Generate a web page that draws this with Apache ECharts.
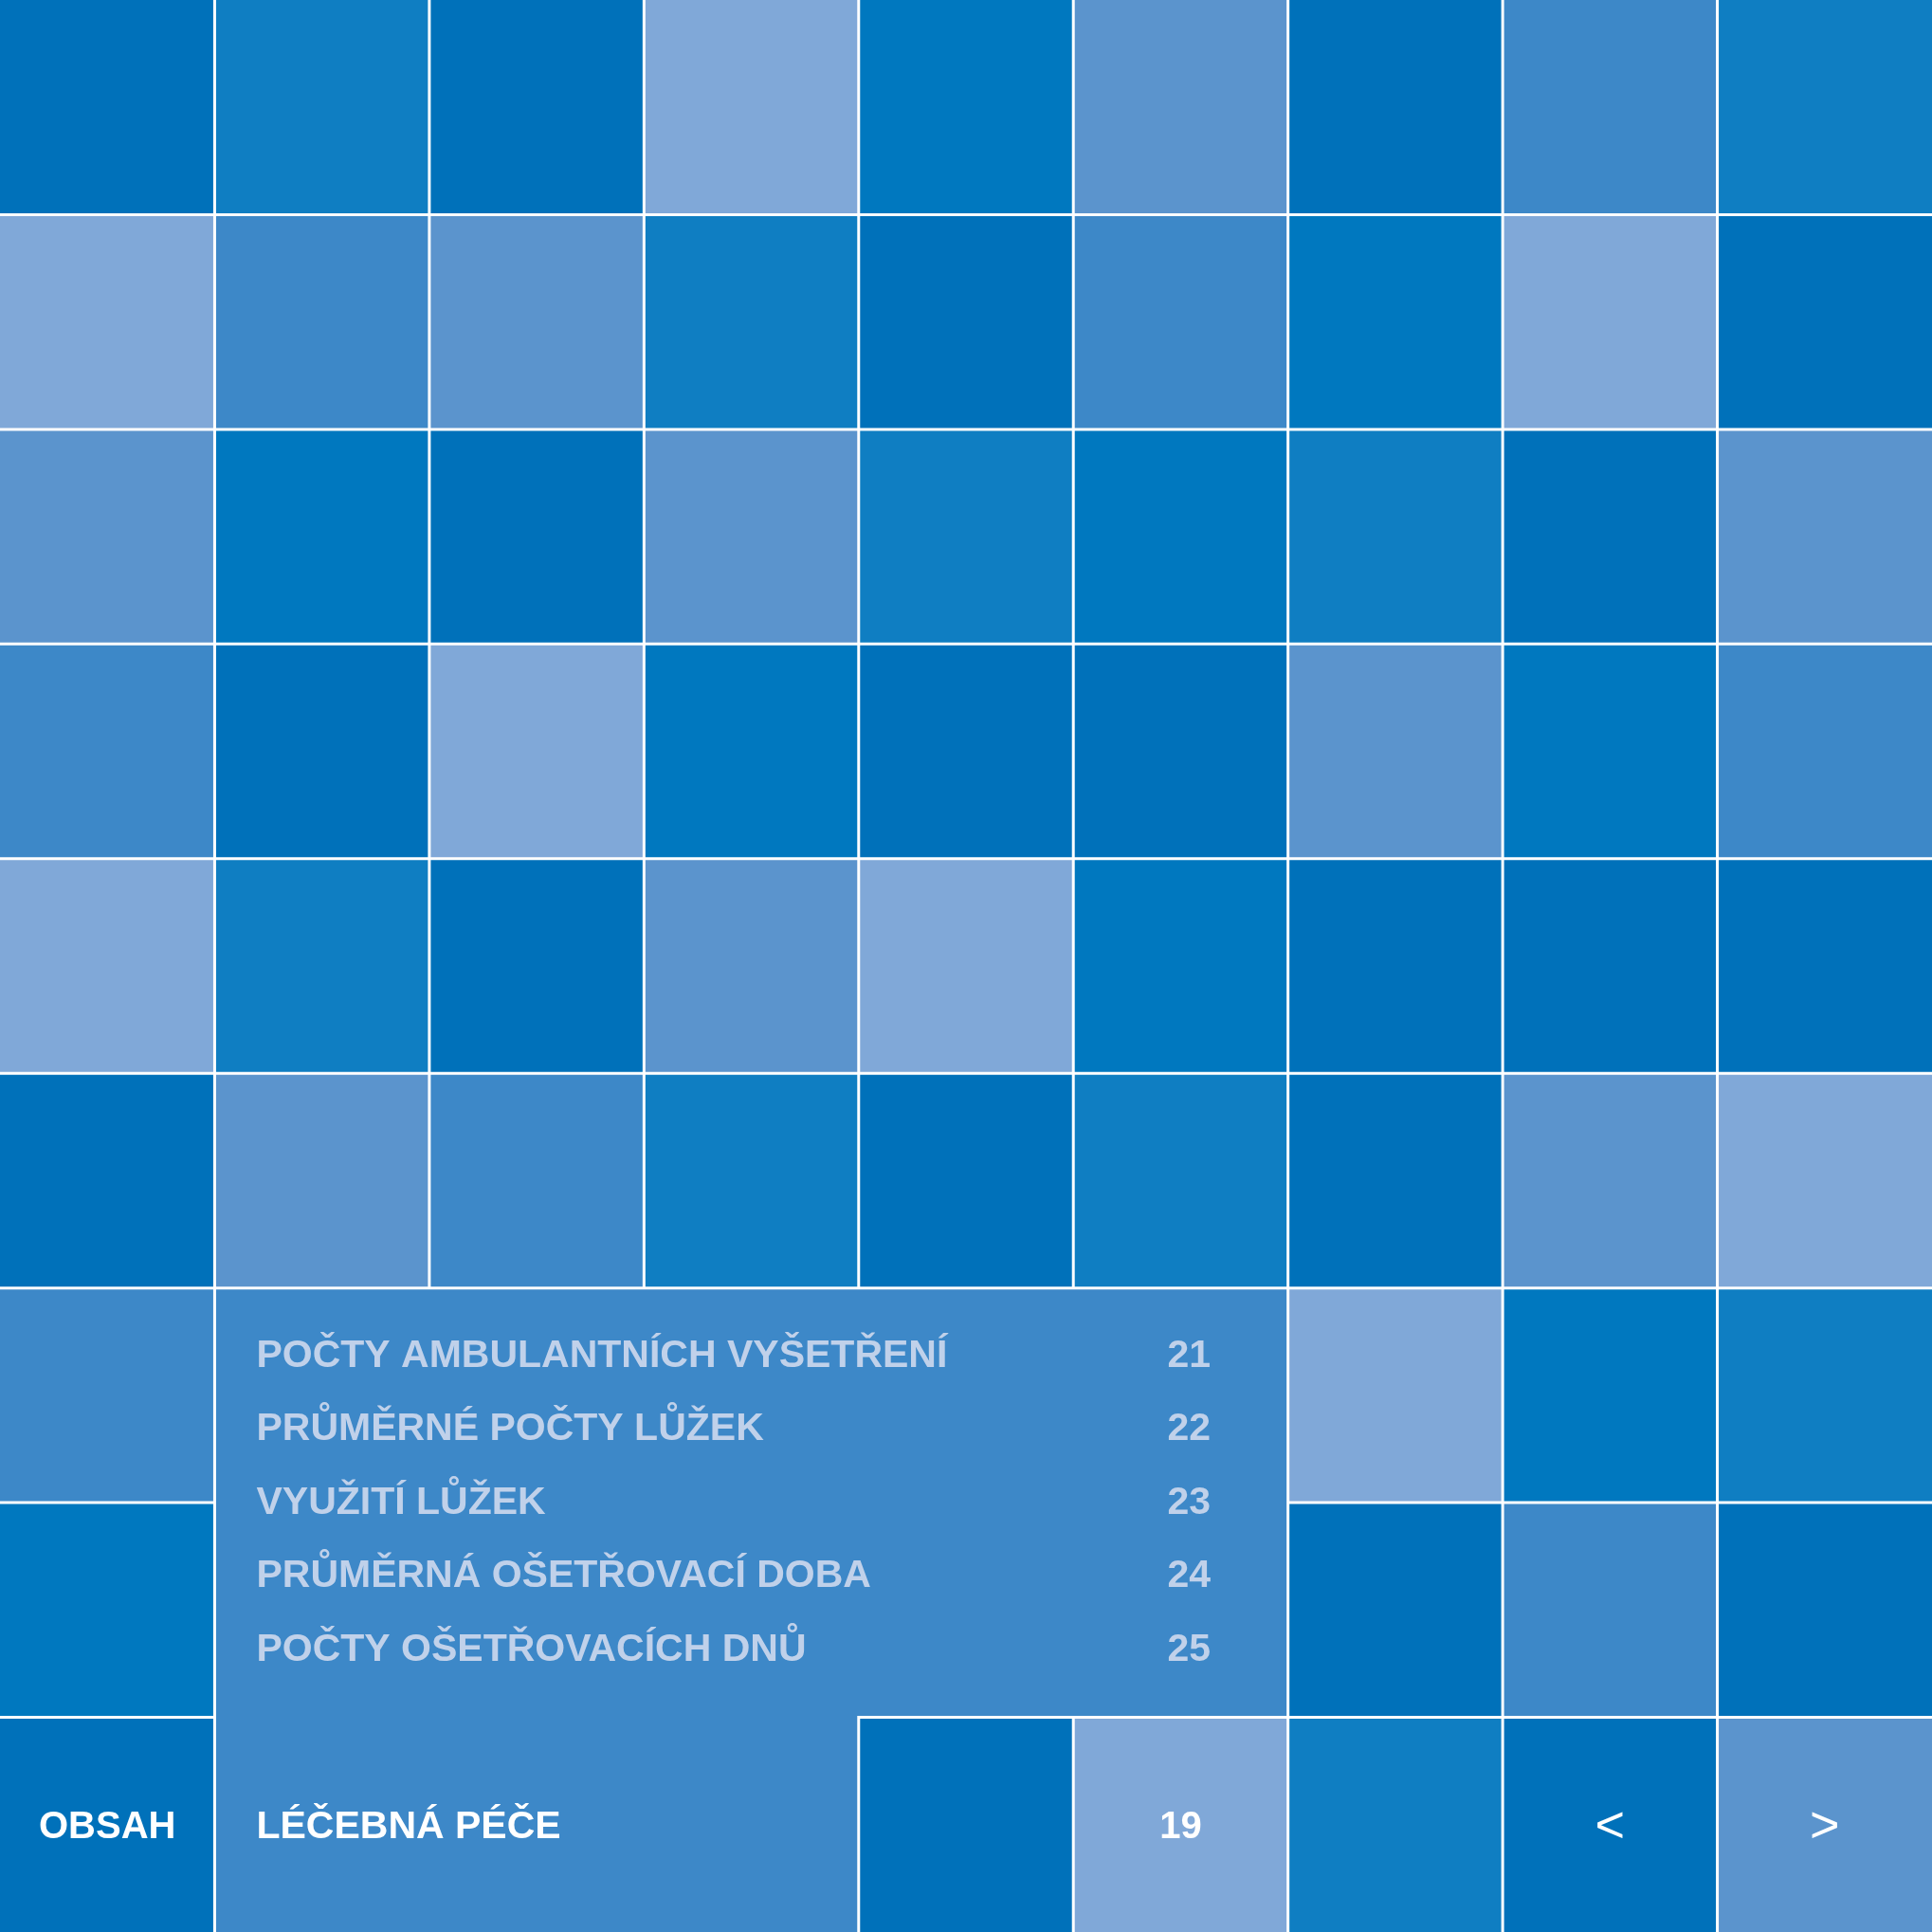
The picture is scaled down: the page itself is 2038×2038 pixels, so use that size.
<!DOCTYPE html>
<html>
<head>
<meta charset="utf-8">
<script src="https://cdn.jsdelivr.net/npm/echarts@6/dist/echarts.min.js"></script>
<style>
  html, body { margin: 0; padding: 0; background: #fff; }
  #chart { width: 2038px; height: 2038px; }
</style>
</head>
<body>
<div id="chart"></div>
<script>
// tile grid: 9 x 9, shade level per cell (null = covered by the contents panel)
const cols = ['0', '1', '2', '3', '4', '5', '6', '7', '8']
const rows = ['0', '1', '2', '3', '4', '5', '6', '7', '8']
const shades = [
  [0, 2, 0, 5, 1, 4, 0, 3, 2],
  [5, 3, 4, 2, 0, 3, 1, 5, 0],
  [4, 1, 0, 4, 2, 1, 2, 0, 4],
  [3, 0, 5, 1, 0, 0, 4, 1, 3],
  [5, 2, 0, 4, 5, 1, 0, 0, 0],
  [0, 4, 3, 2, 0, 2, 0, 4, 5],
  [3, null, null, null, null, null, 5, 1, 2],
  [1, null, null, null, null, null, 0, 3, 0],
  [0, null, null, null, 0, 5, 2, 0, 4],
]
const palette = ['#0071ba', '#0078bf', '#0f7ec2', '#3d88c8', '#5b94cd', '#80a8d8']

// contents list
const tocTitles = [
  'POČTY AMBULANTNÍCH VYŠETŘENÍ',
  'PRŮMĚRNÉ POČTY LŮŽEK',
  'VYUŽITÍ LŮŽEK',
  'PRŮMĚRNÁ OŠETŘOVACÍ DOBA',
  'POČTY OŠETŘOVACÍCH DNŮ',
]
const tocPages = ['21', '22', '23', '24', '25']
const sectionTitle = 'LÉČEBNÁ PÉČE'

// footer navigation labels: [col, row, text]
const navLabels = [
  [0, 8, 'OBSAH'],
  [5, 8, '19'],
  [7, 8, '<'],
  [8, 8, '>'],
]

const FONT = "'Liberation Sans', Arial, Helvetica, sans-serif"
const GAP = 1.5

const tileData = []
shades.forEach((r, y) => r.forEach((v, x) => { if (v !== null) tileData.push([x, y, v]) }))

const chart = echarts.init(document.getElementById('chart'), null, { renderer: 'canvas' })

function renderTile(params, api) {
  const cx = api.value(0), cy = api.value(1)
  const c = api.coord([cx, cy])
  const s = api.size([1, 1])
  const l = cx === 0 ? 0 : GAP, r = cx === cols.length - 1 ? 0 : GAP
  const t = cy === 0 ? 0 : GAP, b = cy === rows.length - 1 ? 0 : GAP
  const x = c[0] - s[0] / 2 + l, y = c[1] - s[1] / 2 + t
  return {
    type: 'rect',
    shape: { x, y, width: s[0] - l - r, height: s[1] - t - b },
    style: { fill: palette[api.value(2)] },
  }
}

function renderPanel(params, api) {
  const c = api.coord([1, 6])
  const s = api.size([1, 1])
  const w = s[0], h = s[1]
  const x0 = c[0] - w / 2, y0 = c[1] - h / 2
  const X = (i) => x0 + i * w
  const Y = (j) => y0 + j * h
  const pts = [
    [X(0) + GAP, Y(0) + GAP], [X(5) - GAP, Y(0) + GAP], [X(5) - GAP, Y(2) - GAP],
    [X(3) - GAP, Y(2) - GAP], [X(3) - GAP, Y(3)], [X(0) + GAP, Y(3)],
  ]
  const children = [{
    type: 'polygon', shape: { points: pts },
    style: { fill: palette[3] },
  }]
  const tx = X(0) + 44
  const px = X(0) + 1005
  tocTitles.forEach((t, i) => {
    const ty = Y(0) + 72 + i * 77.5
    children.push({
      type: 'text', x: tx, y: ty,
      style: { text: t, fill: '#c0d1ea', font: 'bold 41px ' + FONT, textAlign: 'left', textVerticalAlign: 'middle' },
    })
    children.push({
      type: 'text', x: px, y: ty,
      style: { text: tocPages[i], fill: '#c0d1ea', font: 'bold 41px ' + FONT, textAlign: 'left', textVerticalAlign: 'middle' },
    })
  })
  children.push({
    type: 'text', x: tx, y: Y(2) + h / 2 + 3,
    style: { text: sectionTitle, fill: '#fff', font: 'bold 41px ' + FONT, textAlign: 'left', textVerticalAlign: 'middle' },
  })
  return { type: 'group', children }
}

const navFonts = { 'OBSAH': 'bold 40px ', '19': 'bold 40px ', '<': '54px ', '>': '54px ' }

chart.setOption({
  animation: false,
  backgroundColor: '#fff',
  grid: { left: 0, right: 0, top: 0, bottom: 0 },
  xAxis: { type: 'category', data: cols, show: false },
  yAxis: { type: 'category', data: rows, inverse: true, show: false },
  series: [
    {
      type: 'custom',
      data: tileData,
      renderItem: renderTile,
      silent: true,
    },
    {
      type: 'custom',
      data: [[1, 6]],
      renderItem: renderPanel,
      silent: true,
      z: 3,
    },
    {
      type: 'custom',
      data: navLabels,
      silent: true,
      z: 4,
      renderItem: (params, api) => {
        const p = api.coord([api.value(0), api.value(1)])
        const t = navLabels[params.dataIndex][2]
        return {
          type: 'text', x: p[0], y: p[1] + 3,
          style: { text: t, fill: '#fff', font: navFonts[t] + FONT, textAlign: 'center', textVerticalAlign: 'middle' },
        }
      },
    },
  ],
})
window.addEventListener('resize', () => chart.resize())
</script>
</body>
</html>
